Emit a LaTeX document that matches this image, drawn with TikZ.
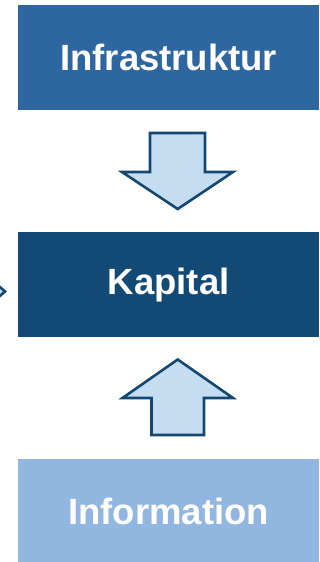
\documentclass[tikz,border=0pt]{standalone}
\usepackage{fontspec}
\setmainfont{Liberation Sans}
\definecolor{cInfra}{RGB}{46,102,160}
\definecolor{cKap}{RGB}{18,74,117}
\definecolor{cInfo}{RGB}{145,183,224}
\definecolor{cArrFill}{RGB}{197,221,241}
\definecolor{cArrLine}{RGB}{20,72,115}
\tikzset{
  box/.style={draw=none, minimum width=301pt, minimum height=105pt, inner sep=0pt, anchor=north west, text=white, font=\fontsize{36.5}{40}\selectfont\bfseries},
  blockarrow/.style={fill=cArrFill, draw=cArrLine, line width=2.6pt, line join=miter}
}
\begin{document}
\begin{tikzpicture}[x=1pt,y=-1pt]
\useasboundingbox (0,0) rectangle (320,562);
\begin{scope}
\clip (0,0) rectangle (320,562);
\node[box, fill=cInfra] (infra) at (18,5) {Infrastruktur};
\node[box, fill=cKap] (kap) at (18,232) {Kapital};
\node[box, fill=cInfo, minimum height=104pt] (info) at (18,459) {Information};
% down arrow
\draw[blockarrow] (150,133) -- (205,133) -- (205,172) -- (233,172) -- (177.7,209) -- (122,172) -- (150,172) -- cycle;
% up arrow
\draw[blockarrow] (151.5,435) -- (204,435) -- (204,398) -- (233,398) -- (177.7,359.5) -- (122.5,398) -- (151.5,398) -- cycle;
% partially visible arrow at left
\draw[blockarrow] (-20,280) -- (-8,280) -- (5,291.5) -- (-8,303) -- (-20,303) -- cycle;
\end{scope}
\end{tikzpicture}
\end{document}
